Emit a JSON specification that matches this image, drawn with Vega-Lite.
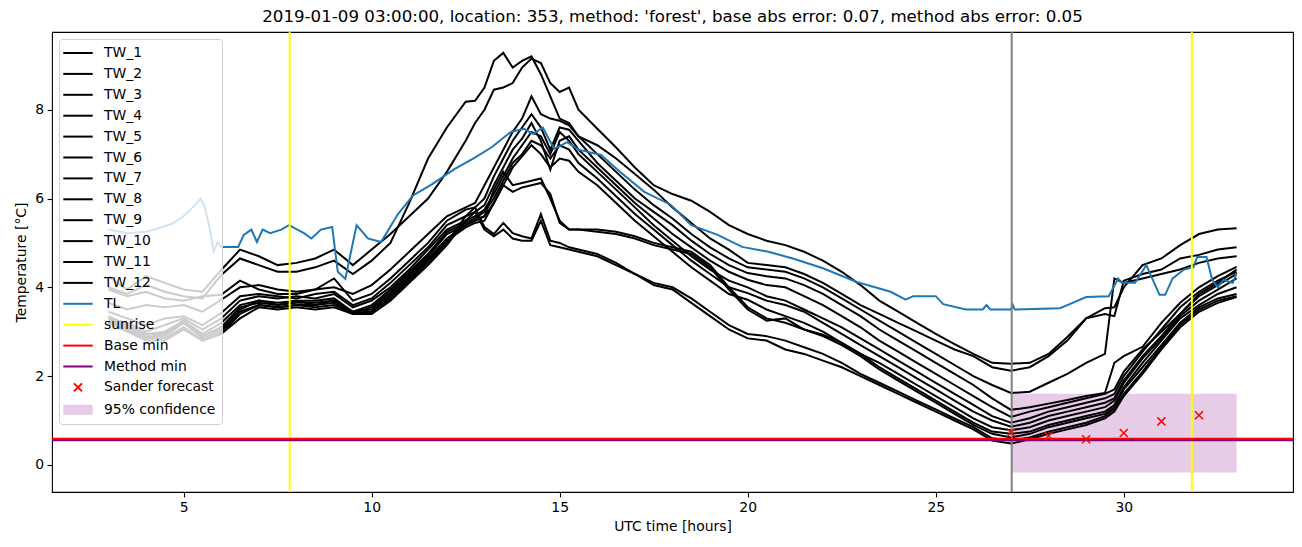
{
"$schema": "https://vega.github.io/schema/vega-lite/v6.json",
"width": 1241, "height": 460,
"autosize": {"type": "none"},
"padding": {"left": 52, "top": 32, "right": 9, "bottom": 55},
"title": {"text": "2019-01-09 03:00:00, location: 353, method: 'forest', base abs error: 0.07, method abs error: 0.05", "font": "DejaVu Sans", "fontSize": 16.67, "fontWeight": "normal", "color": "#000", "anchor": "middle", "offset": 5},
"config": {
 "view": {"stroke": "#000", "strokeWidth": 1.1},
 "axis": {"grid": false, "domain": false, "labelFont": "DejaVu Sans", "labelFontSize": 13.9, "labelColor": "#000", "tickColor": "#000", "tickSize": 4.9, "tickWidth": 1.1, "titleFont": "DejaVu Sans", "titleFontSize": 13.9, "titleFontWeight": "normal", "titleColor": "#000", "labelPadding": 3.5},
 "legend": {"symbolSize": 196, "symbolStrokeWidth": 2}
},
"datasets": {
 "tw": [
{"t":3,"TW_1":4.25,"TW_2":4.0,"TW_3":3.95,"TW_4":3.65,"TW_5":3.45,"TW_6":3.3,"TW_7":3.25,"TW_8":3.2,"TW_9":3.35,"TW_10":3.3,"TW_11":3.25,"TW_12":3.2},
{"t":3.5,"TW_1":3.95,"TW_2":3.85,"TW_3":3.8,"TW_4":3.5,"TW_5":3.3,"TW_6":3.2,"TW_7":3.1,"TW_8":3.05,"TW_9":3.15,"TW_10":3.1,"TW_11":3.05,"TW_12":3.0},
{"t":4,"TW_1":4.25,"TW_2":4.05,"TW_3":3.9,"TW_4":3.6,"TW_5":3.15,"TW_6":3.0,"TW_7":2.95,"TW_8":2.85,"TW_9":2.95,"TW_10":2.9,"TW_11":2.85,"TW_12":2.8},
{"t":4.5,"TW_1":4.1,"TW_2":3.9,"TW_3":3.75,"TW_4":3.55,"TW_5":3.3,"TW_6":3.15,"TW_7":3.0,"TW_8":2.95,"TW_9":2.95,"TW_10":2.9,"TW_11":2.85,"TW_12":2.8},
{"t":5,"TW_1":3.95,"TW_2":3.8,"TW_3":3.7,"TW_4":3.6,"TW_5":3.35,"TW_6":3.3,"TW_7":3.25,"TW_8":3.2,"TW_9":3.25,"TW_10":3.2,"TW_11":3.1,"TW_12":3.05},
{"t":5.5,"TW_1":3.9,"TW_2":3.75,"TW_3":3.8,"TW_4":3.45,"TW_5":3.15,"TW_6":3.05,"TW_7":2.95,"TW_8":2.9,"TW_9":2.9,"TW_10":2.85,"TW_11":2.8,"TW_12":2.8},
{"t":6,"TW_1":4.39,"TW_2":4.28,"TW_3":3.83,"TW_4":3.72,"TW_5":3.42,"TW_6":3.3,"TW_7":3.2,"TW_8":3.1,"TW_9":3.05,"TW_10":3.0,"TW_11":2.95,"TW_12":2.95},
{"t":6.5,"TW_1":4.85,"TW_2":4.65,"TW_3":4.15,"TW_4":4.0,"TW_5":3.8,"TW_6":3.7,"TW_7":3.6,"TW_8":3.55,"TW_9":3.5,"TW_10":3.45,"TW_11":3.4,"TW_12":3.3},
{"t":7,"TW_1":4.7,"TW_2":4.5,"TW_3":3.95,"TW_4":4.05,"TW_5":3.85,"TW_6":3.8,"TW_7":3.7,"TW_8":3.65,"TW_9":3.7,"TW_10":3.6,"TW_11":3.6,"TW_12":3.55},
{"t":7.5,"TW_1":4.5,"TW_2":4.35,"TW_3":3.85,"TW_4":3.95,"TW_5":3.8,"TW_6":3.75,"TW_7":3.65,"TW_8":3.6,"TW_9":3.6,"TW_10":3.55,"TW_11":3.55,"TW_12":3.5},
{"t":8,"TW_1":4.55,"TW_2":4.35,"TW_3":3.85,"TW_4":3.9,"TW_5":3.75,"TW_6":3.8,"TW_7":3.7,"TW_8":3.65,"TW_9":3.7,"TW_10":3.6,"TW_11":3.6,"TW_12":3.55},
{"t":8.5,"TW_1":4.65,"TW_2":4.45,"TW_3":3.95,"TW_4":3.95,"TW_5":3.85,"TW_6":3.75,"TW_7":3.7,"TW_8":3.65,"TW_9":3.6,"TW_10":3.6,"TW_11":3.55,"TW_12":3.5},
{"t":9,"TW_1":4.85,"TW_2":4.6,"TW_3":4.0,"TW_4":4.2,"TW_5":3.9,"TW_6":3.85,"TW_7":3.75,"TW_8":3.7,"TW_9":3.7,"TW_10":3.65,"TW_11":3.6,"TW_12":3.55},
{"t":9.5,"TW_1":4.5,"TW_2":4.3,"TW_3":3.85,"TW_4":3.7,"TW_5":3.6,"TW_6":3.55,"TW_7":3.45,"TW_8":3.42,"TW_9":3.45,"TW_10":3.4,"TW_11":3.42,"TW_12":3.4},
{"t":10,"TW_1":4.85,"TW_2":4.6,"TW_3":4.05,"TW_4":3.85,"TW_5":3.75,"TW_6":3.7,"TW_7":3.6,"TW_8":3.55,"TW_9":3.5,"TW_10":3.45,"TW_11":3.45,"TW_12":3.4},
{"t":10.5,"TW_1":5.2,"TW_2":5.0,"TW_3":4.4,"TW_4":4.2,"TW_5":4.1,"TW_6":4.0,"TW_7":3.95,"TW_8":3.9,"TW_9":3.85,"TW_10":3.8,"TW_11":3.75,"TW_12":3.7},
{"t":11,"TW_1":5.6,"TW_2":5.9,"TW_3":4.8,"TW_4":4.6,"TW_5":4.5,"TW_6":4.4,"TW_7":4.35,"TW_8":4.3,"TW_9":4.25,"TW_10":4.2,"TW_11":4.15,"TW_12":4.1},
{"t":11.5,"TW_1":6.0,"TW_2":6.9,"TW_3":5.2,"TW_4":5.0,"TW_5":4.9,"TW_6":4.85,"TW_7":4.75,"TW_8":4.7,"TW_9":4.65,"TW_10":4.6,"TW_11":4.55,"TW_12":4.5},
{"t":12,"TW_1":6.6,"TW_2":7.6,"TW_3":5.6,"TW_4":5.5,"TW_5":5.4,"TW_6":5.3,"TW_7":5.25,"TW_8":5.2,"TW_9":5.1,"TW_10":5.05,"TW_11":5.0,"TW_12":4.95},
{"t":12.5,"TW_1":7.3,"TW_2":8.18,"TW_3":5.8,"TW_4":5.75,"TW_5":5.6,"TW_6":5.5,"TW_7":5.45,"TW_8":5.4,"TW_9":5.4,"TW_10":5.35,"TW_11":5.6,"TW_12":5.5},
{"t":12.75,"TW_1":7.7,"TW_2":8.2,"TW_3":5.9,"TW_4":5.8,"TW_5":5.7,"TW_6":5.6,"TW_7":5.55,"TW_8":5.5,"TW_9":5.5,"TW_10":5.45,"TW_11":5.8,"TW_12":5.7},
{"t":13,"TW_1":8.0,"TW_2":8.5,"TW_3":6.3,"TW_4":6.0,"TW_5":5.85,"TW_6":5.75,"TW_7":5.7,"TW_8":5.6,"TW_9":5.6,"TW_10":5.5,"TW_11":5.36,"TW_12":5.3},
{"t":13.25,"TW_1":8.45,"TW_2":9.1,"TW_3":6.7,"TW_4":6.5,"TW_5":6.3,"TW_6":6.1,"TW_7":6.0,"TW_8":5.9,"TW_9":6.2,"TW_10":5.9,"TW_11":5.2,"TW_12":5.15},
{"t":13.5,"TW_1":8.5,"TW_2":9.28,"TW_3":7.1,"TW_4":6.9,"TW_5":6.7,"TW_6":6.5,"TW_7":6.4,"TW_8":6.3,"TW_9":6.6,"TW_10":6.3,"TW_11":5.45,"TW_12":5.3},
{"t":13.75,"TW_1":8.6,"TW_2":8.95,"TW_3":7.5,"TW_4":7.3,"TW_5":7.1,"TW_6":6.9,"TW_7":6.8,"TW_8":6.7,"TW_9":6.3,"TW_10":6.15,"TW_11":5.22,"TW_12":5.1},
{"t":14,"TW_1":8.95,"TW_2":9.1,"TW_3":7.8,"TW_4":7.6,"TW_5":7.35,"TW_6":7.2,"TW_7":7.0,"TW_8":6.95,"TW_9":6.35,"TW_10":6.25,"TW_11":5.15,"TW_12":5.05},
{"t":14.25,"TW_1":9.15,"TW_2":9.2,"TW_3":8.3,"TW_4":7.9,"TW_5":7.7,"TW_6":7.5,"TW_7":7.3,"TW_8":7.2,"TW_9":6.4,"TW_10":6.3,"TW_11":5.1,"TW_12":5.05},
{"t":14.5,"TW_1":9.05,"TW_2":8.8,"TW_3":7.9,"TW_4":7.6,"TW_5":7.3,"TW_6":7.4,"TW_7":7.2,"TW_8":7.0,"TW_9":6.45,"TW_10":6.35,"TW_11":5.65,"TW_12":5.5},
{"t":14.75,"TW_1":8.6,"TW_2":8.3,"TW_3":7.8,"TW_4":7.1,"TW_5":6.65,"TW_6":7.0,"TW_7":6.9,"TW_8":6.7,"TW_9":6.0,"TW_10":6.1,"TW_11":5.05,"TW_12":4.95},
{"t":15,"TW_1":8.4,"TW_2":7.8,"TW_3":7.75,"TW_4":7.6,"TW_5":7.3,"TW_6":7.5,"TW_7":7.2,"TW_8":6.9,"TW_9":5.5,"TW_10":5.45,"TW_11":5.0,"TW_12":4.9},
{"t":15.25,"TW_1":8.5,"TW_2":7.7,"TW_3":7.65,"TW_4":7.55,"TW_5":7.4,"TW_6":7.3,"TW_7":7.1,"TW_8":6.85,"TW_9":5.3,"TW_10":5.3,"TW_11":4.9,"TW_12":4.85},
{"t":15.5,"TW_1":8.0,"TW_2":7.4,"TW_3":7.4,"TW_4":7.3,"TW_5":7.1,"TW_6":7.0,"TW_7":6.8,"TW_8":6.6,"TW_9":5.3,"TW_10":5.3,"TW_11":4.85,"TW_12":4.8},
{"t":16,"TW_1":7.57,"TW_2":7.2,"TW_3":7.0,"TW_4":6.8,"TW_5":6.7,"TW_6":6.6,"TW_7":6.45,"TW_8":6.3,"TW_9":5.3,"TW_10":5.25,"TW_11":4.75,"TW_12":4.7},
{"t":16.5,"TW_1":7.15,"TW_2":6.9,"TW_3":6.6,"TW_4":6.4,"TW_5":6.3,"TW_6":6.2,"TW_7":6.05,"TW_8":5.9,"TW_9":5.25,"TW_10":5.2,"TW_11":4.55,"TW_12":4.5},
{"t":17,"TW_1":6.7,"TW_2":6.55,"TW_3":6.2,"TW_4":6.0,"TW_5":5.9,"TW_6":5.8,"TW_7":5.65,"TW_8":5.5,"TW_9":5.15,"TW_10":5.1,"TW_11":4.3,"TW_12":4.3},
{"t":17.5,"TW_1":6.3,"TW_2":6.2,"TW_3":5.85,"TW_4":5.7,"TW_5":5.55,"TW_6":5.4,"TW_7":5.3,"TW_8":5.15,"TW_9":5.0,"TW_10":4.95,"TW_11":4.1,"TW_12":4.05},
{"t":18,"TW_1":6.1,"TW_2":5.8,"TW_3":5.55,"TW_4":5.4,"TW_5":5.2,"TW_6":5.05,"TW_7":4.95,"TW_8":4.8,"TW_9":4.9,"TW_10":4.85,"TW_11":4.0,"TW_12":3.95},
{"t":18.5,"TW_1":5.95,"TW_2":5.45,"TW_3":5.2,"TW_4":5.05,"TW_5":4.9,"TW_6":4.7,"TW_7":4.6,"TW_8":4.45,"TW_9":4.8,"TW_10":4.75,"TW_11":3.75,"TW_12":3.65},
{"t":19,"TW_1":5.7,"TW_2":5.1,"TW_3":4.9,"TW_4":4.75,"TW_5":4.6,"TW_6":4.4,"TW_7":4.3,"TW_8":4.15,"TW_9":4.5,"TW_10":4.45,"TW_11":3.45,"TW_12":3.35},
{"t":19.5,"TW_1":5.4,"TW_2":4.85,"TW_3":4.65,"TW_4":4.5,"TW_5":4.35,"TW_6":4.15,"TW_7":4.0,"TW_8":3.85,"TW_9":4.0,"TW_10":3.95,"TW_11":3.15,"TW_12":3.05},
{"t":20,"TW_1":5.2,"TW_2":4.55,"TW_3":4.45,"TW_4":4.32,"TW_5":4.17,"TW_6":4.0,"TW_7":3.87,"TW_8":3.72,"TW_9":3.55,"TW_10":3.5,"TW_11":2.95,"TW_12":2.85},
{"t":20.5,"TW_1":5.05,"TW_2":4.5,"TW_3":4.4,"TW_4":4.25,"TW_5":4.05,"TW_6":3.8,"TW_7":3.7,"TW_8":3.5,"TW_9":3.3,"TW_10":3.25,"TW_11":2.9,"TW_12":2.8},
{"t":21,"TW_1":4.95,"TW_2":4.45,"TW_3":4.35,"TW_4":4.2,"TW_5":4.0,"TW_6":3.7,"TW_7":3.6,"TW_8":3.35,"TW_9":3.2,"TW_10":3.3,"TW_11":2.8,"TW_12":2.6},
{"t":21.5,"TW_1":4.8,"TW_2":4.3,"TW_3":4.2,"TW_4":4.05,"TW_5":3.8,"TW_6":3.5,"TW_7":3.45,"TW_8":3.2,"TW_9":3.05,"TW_10":3.05,"TW_11":2.65,"TW_12":2.5},
{"t":22,"TW_1":4.6,"TW_2":4.1,"TW_3":4.0,"TW_4":3.85,"TW_5":3.6,"TW_6":3.3,"TW_7":3.2,"TW_8":3.0,"TW_9":2.93,"TW_10":2.9,"TW_11":2.5,"TW_12":2.35},
{"t":22.5,"TW_1":4.35,"TW_2":3.85,"TW_3":3.75,"TW_4":3.6,"TW_5":3.35,"TW_6":3.1,"TW_7":2.95,"TW_8":2.75,"TW_9":2.75,"TW_10":2.7,"TW_11":2.3,"TW_12":2.2},
{"t":23,"TW_1":4.05,"TW_2":3.6,"TW_3":3.5,"TW_4":3.35,"TW_5":3.1,"TW_6":2.85,"TW_7":2.7,"TW_8":2.5,"TW_9":2.5,"TW_10":2.45,"TW_11":2.05,"TW_12":2.0},
{"t":23.5,"TW_1":3.7,"TW_2":3.4,"TW_3":3.25,"TW_4":3.05,"TW_5":2.8,"TW_6":2.6,"TW_7":2.45,"TW_8":2.3,"TW_9":2.2,"TW_10":2.15,"TW_11":1.85,"TW_12":1.8},
{"t":24,"TW_1":3.45,"TW_2":3.2,"TW_3":3.0,"TW_4":2.8,"TW_5":2.55,"TW_6":2.35,"TW_7":2.2,"TW_8":2.05,"TW_9":1.95,"TW_10":1.9,"TW_11":1.65,"TW_12":1.6},
{"t":24.5,"TW_1":3.2,"TW_2":3.0,"TW_3":2.75,"TW_4":2.55,"TW_5":2.3,"TW_6":2.1,"TW_7":1.95,"TW_8":1.8,"TW_9":1.7,"TW_10":1.65,"TW_11":1.45,"TW_12":1.4},
{"t":25,"TW_1":2.95,"TW_2":2.8,"TW_3":2.5,"TW_4":2.3,"TW_5":2.05,"TW_6":1.85,"TW_7":1.7,"TW_8":1.55,"TW_9":1.45,"TW_10":1.4,"TW_11":1.25,"TW_12":1.2},
{"t":25.5,"TW_1":2.72,"TW_2":2.6,"TW_3":2.25,"TW_4":2.05,"TW_5":1.8,"TW_6":1.6,"TW_7":1.45,"TW_8":1.3,"TW_9":1.2,"TW_10":1.15,"TW_11":1.05,"TW_12":1.0},
{"t":26,"TW_1":2.5,"TW_2":2.45,"TW_3":2.0,"TW_4":1.8,"TW_5":1.55,"TW_6":1.35,"TW_7":1.2,"TW_8":1.05,"TW_9":0.95,"TW_10":0.9,"TW_11":0.85,"TW_12":0.8},
{"t":26.5,"TW_1":2.3,"TW_2":2.2,"TW_3":1.8,"TW_4":1.5,"TW_5":1.3,"TW_6":1.1,"TW_7":1.0,"TW_8":0.85,"TW_9":0.75,"TW_10":0.7,"TW_11":0.6,"TW_12":0.55},
{"t":27,"TW_1":2.28,"TW_2":2.12,"TW_3":1.62,"TW_4":1.24,"TW_5":1.08,"TW_6":0.95,"TW_7":0.86,"TW_8":0.78,"TW_9":0.7,"TW_10":0.62,"TW_11":0.55,"TW_12":0.48},
{"t":27.5,"TW_1":2.3,"TW_2":2.2,"TW_3":1.65,"TW_4":1.3,"TW_5":1.2,"TW_6":1.05,"TW_7":0.95,"TW_8":0.85,"TW_9":0.75,"TW_10":0.7,"TW_11":0.62,"TW_12":0.58},
{"t":28,"TW_1":2.5,"TW_2":2.45,"TW_3":1.85,"TW_4":1.38,"TW_5":1.3,"TW_6":1.2,"TW_7":1.1,"TW_8":1.0,"TW_9":0.9,"TW_10":0.85,"TW_11":0.75,"TW_12":0.7},
{"t":28.5,"TW_1":2.88,"TW_2":2.8,"TW_3":2.05,"TW_4":1.46,"TW_5":1.4,"TW_6":1.3,"TW_7":1.2,"TW_8":1.1,"TW_9":1.0,"TW_10":0.95,"TW_11":0.85,"TW_12":0.8},
{"t":29,"TW_1":3.3,"TW_2":3.3,"TW_3":2.3,"TW_4":1.55,"TW_5":1.5,"TW_6":1.4,"TW_7":1.3,"TW_8":1.2,"TW_9":1.1,"TW_10":1.05,"TW_11":0.95,"TW_12":0.9},
{"t":29.5,"TW_1":3.53,"TW_2":3.4,"TW_3":2.5,"TW_4":1.62,"TW_5":1.6,"TW_6":1.5,"TW_7":1.4,"TW_8":1.3,"TW_9":1.2,"TW_10":1.15,"TW_11":1.1,"TW_12":1.05},
{"t":29.75,"TW_1":3.55,"TW_2":3.35,"TW_3":4.2,"TW_4":2.3,"TW_5":1.7,"TW_6":1.6,"TW_7":1.5,"TW_8":1.45,"TW_9":1.35,"TW_10":1.3,"TW_11":1.25,"TW_12":1.2},
{"t":30,"TW_1":4.0,"TW_2":4.15,"TW_3":4.1,"TW_4":2.45,"TW_5":2.1,"TW_6":2.0,"TW_7":1.9,"TW_8":1.85,"TW_9":1.75,"TW_10":1.7,"TW_11":1.6,"TW_12":1.55},
{"t":30.5,"TW_1":4.5,"TW_2":4.3,"TW_3":4.2,"TW_4":2.66,"TW_5":2.6,"TW_6":2.55,"TW_7":2.45,"TW_8":2.4,"TW_9":2.3,"TW_10":2.2,"TW_11":2.1,"TW_12":2.05},
{"t":31,"TW_1":4.65,"TW_2":4.4,"TW_3":4.3,"TW_4":3.2,"TW_5":3.0,"TW_6":3.05,"TW_7":2.9,"TW_8":2.85,"TW_9":2.8,"TW_10":2.7,"TW_11":2.65,"TW_12":2.6},
{"t":31.5,"TW_1":4.95,"TW_2":4.65,"TW_3":4.4,"TW_4":3.65,"TW_5":3.4,"TW_6":3.55,"TW_7":3.4,"TW_8":3.35,"TW_9":3.3,"TW_10":3.2,"TW_11":3.15,"TW_12":3.1},
{"t":32,"TW_1":5.2,"TW_2":4.73,"TW_3":4.55,"TW_4":4.0,"TW_5":3.85,"TW_6":3.9,"TW_7":3.8,"TW_8":3.7,"TW_9":3.6,"TW_10":3.55,"TW_11":3.5,"TW_12":3.45},
{"t":32.5,"TW_1":5.3,"TW_2":4.85,"TW_3":4.65,"TW_4":4.25,"TW_5":4.1,"TW_6":4.15,"TW_7":4.05,"TW_8":3.95,"TW_9":3.85,"TW_10":3.75,"TW_11":3.7,"TW_12":3.65},
{"t":33,"TW_1":5.33,"TW_2":4.9,"TW_3":4.7,"TW_4":4.46,"TW_5":4.4,"TW_6":4.35,"TW_7":4.3,"TW_8":4.2,"TW_9":4.0,"TW_10":3.85,"TW_11":3.8,"TW_12":3.78}
 ],
 "tl": [
{"t":3,"v":5.3},{"t":3.5,"v":5.22},{"t":4.0,"v":5.25},{"t":4.4,"v":5.35},{"t":4.7,"v":5.43},{"t":5.0,"v":5.6},{"t":5.3,"v":5.85},{"t":5.45,"v":6.0},{"t":5.55,"v":5.85},{"t":5.7,"v":5.3},{"t":5.8,"v":4.8},{"t":5.9,"v":5.0},{"t":6.0,"v":4.91},{"t":6.45,"v":4.91},{"t":6.6,"v":5.18},{"t":6.8,"v":5.3},{"t":6.95,"v":5.02},{"t":7.1,"v":5.3},{"t":7.3,"v":5.22},{"t":7.6,"v":5.3},{"t":7.8,"v":5.4},{"t":8.2,"v":5.22},{"t":8.4,"v":5.1},{"t":8.65,"v":5.3},{"t":8.95,"v":5.36},{"t":9.1,"v":4.35},{"t":9.3,"v":4.19},{"t":9.6,"v":5.4},{"t":9.9,"v":5.1},{"t":10.25,"v":5.02},{"t":10.7,"v":5.65},{"t":11.1,"v":6.07},{"t":11.6,"v":6.32},{"t":12.2,"v":6.66},{"t":12.7,"v":6.9},{"t":13.2,"v":7.16},{"t":13.7,"v":7.5},{"t":14.05,"v":7.57},{"t":14.3,"v":7.45},{"t":14.55,"v":7.6},{"t":14.85,"v":7.12},{"t":15.2,"v":7.27},{"t":15.5,"v":7.1},{"t":16.1,"v":6.98},{"t":16.6,"v":6.6},{"t":17.25,"v":6.15},{"t":17.95,"v":5.86},{"t":18.5,"v":5.4},{"t":19.2,"v":5.18},{"t":19.85,"v":4.91},{"t":20.55,"v":4.8},{"t":21.2,"v":4.65},{"t":22.0,"v":4.43},{"t":22.9,"v":4.12},{"t":23.8,"v":3.9},{"t":24.2,"v":3.72},{"t":24.4,"v":3.8},{"t":25.0,"v":3.8},{"t":25.2,"v":3.62},{"t":25.8,"v":3.5},{"t":26.25,"v":3.5},{"t":26.35,"v":3.6},{"t":26.45,"v":3.5},{"t":27.0,"v":3.5},{"t":27.05,"v":3.6},{"t":27.1,"v":3.5},{"t":28.3,"v":3.53},{"t":28.5,"v":3.6},{"t":29.0,"v":3.78},{"t":29.6,"v":3.8},{"t":29.85,"v":4.2},{"t":29.95,"v":4.1},{"t":30.3,"v":4.1},{"t":30.6,"v":4.5},{"t":30.95,"v":3.83},{"t":31.1,"v":3.83},{"t":31.3,"v":4.2},{"t":31.6,"v":4.4},{"t":31.85,"v":4.45},{"t":31.95,"v":4.68},{"t":32.2,"v":4.68},{"t":32.35,"v":4.17},{"t":32.5,"v":4.0},{"t":32.65,"v":4.17},{"t":32.9,"v":4.1},{"t":33,"v":4.32}
 ],
 "leg": [
{"series":"TW_1"},{"series":"TW_2"},{"series":"TW_3"},{"series":"TW_4"},{"series":"TW_5"},{"series":"TW_6"},{"series":"TW_7"},{"series":"TW_8"},{"series":"TW_9"},{"series":"TW_10"},{"series":"TW_11"},{"series":"TW_12"},{"series":"TL"},{"series":"sunrise"},{"series":"Base min"},{"series":"Method min"},{"series":"Sander forecast"},{"series":"95% confidence"}
 ]
},
"layer": [
 {
  "data": {"values": [{"x": 27, "x2": 33, "y": -0.17, "y2": 1.6}]},
  "mark": {"type": "rect", "fill": "#800080", "fillOpacity": 0.2},
  "encoding": {
   "x": {"field": "x", "type": "quantitative", "scale": {"domain": [1.5, 34.5], "nice": false, "zero": false}, "axis": {"title": "UTC time [hours]", "values": [5, 10, 15, 20, 25, 30], "titlePadding": 5}},
   "x2": {"field": "x2"},
   "y": {"field": "y", "type": "quantitative", "scale": {"domain": [-0.61, 9.75], "nice": false, "zero": false}, "axis": {"title": "Temperature [°C]", "values": [0, 2, 4, 6, 8], "titlePadding": 6}},
   "y2": {"field": "y2"}
  }
 },
 {
  "data": {"name": "tw"},
  "transform": [{"fold": ["TW_1","TW_2","TW_3","TW_4","TW_5","TW_6","TW_7","TW_8","TW_9","TW_10","TW_11","TW_12"], "as": ["series", "value"]}],
  "mark": {"type": "line", "strokeWidth": 2, "color": "#000"},
  "encoding": {
   "x": {"field": "t", "type": "quantitative"},
   "y": {"field": "value", "type": "quantitative"},
   "detail": {"field": "series", "type": "nominal"}
  }
 },
 {
  "data": {"name": "tl"},
  "mark": {"type": "line", "strokeWidth": 2, "color": "#1f77b4"},
  "encoding": {"x": {"field": "t", "type": "quantitative"}, "y": {"field": "v", "type": "quantitative"}}
 },
 {
  "data": {"values": [{"x": 7.82}, {"x": 31.81}]},
  "mark": {"type": "rule", "color": "#ffff00", "strokeWidth": 2},
  "encoding": {"x": {"field": "x", "type": "quantitative"}}
 },
 {
  "data": {"values": [{"x": 27.02}]},
  "mark": {"type": "rule", "color": "#808080", "strokeWidth": 2},
  "encoding": {"x": {"field": "x", "type": "quantitative"}}
 },
 {
  "data": {"values": [{"y": 0.59}]},
  "mark": {"type": "rule", "color": "#ff0000", "strokeWidth": 2},
  "encoding": {"y": {"field": "y", "type": "quantitative"}}
 },
 {
  "data": {"values": [{"y": 0.555}]},
  "mark": {"type": "rule", "color": "#800080", "strokeWidth": 2},
  "encoding": {"y": {"field": "y", "type": "quantitative"}}
 },
 {
  "data": {"values": [{"t": 27, "v": 0.73}, {"t": 28, "v": 0.65}, {"t": 29, "v": 0.58}, {"t": 30, "v": 0.72}, {"t": 31, "v": 0.98}, {"t": 32, "v": 1.12}]},
  "mark": {"type": "point", "shape": "M-1,-1L1,1M-1,1L1,-1", "size": 64, "filled": false, "stroke": "#ff0000", "strokeWidth": 1.5, "opacity": 1},
  "encoding": {"x": {"field": "t", "type": "quantitative"}, "y": {"field": "v", "type": "quantitative"}}
 },
 {
  "data": {"name": "leg"},
  "mark": {"type": "point", "filled": false, "clip": true, "strokeWidth": 2, "opacity": 1},
  "encoding": {
   "x": {"datum": -100, "type": "quantitative"},
   "y": {"datum": -100, "type": "quantitative"},
   "color": {"field": "series", "type": "nominal",
    "scale": {"domain": ["TW_1","TW_2","TW_3","TW_4","TW_5","TW_6","TW_7","TW_8","TW_9","TW_10","TW_11","TW_12","TL","sunrise","Base min","Method min","Sander forecast","95% confidence"],
              "range": ["#000","#000","#000","#000","#000","#000","#000","#000","#000","#000","#000","#000","#1f77b4","#ffff00","#ff0000","#800080","#ff0000","#e6cce6"]},
    "legend": {
     "title": null, "orient": "top-left", "offset": 7, "padding": 6,
     "fillColor": "rgba(255,255,255,0.8)", "strokeColor": "#d0d0d0", "cornerRadius": 3,
     "labelFont": "DejaVu Sans", "labelFontSize": 13.9, "labelColor": "#000",
     "symbolSize": 196, "symbolStrokeWidth": 2, "symbolOpacity": 1,
     "rowPadding": 5.9, "labelOffset": 18, "symbolOffset": 5
    }
   },
   "shape": {"field": "series", "type": "nominal",
    "scale": {"domain": ["TW_1","TW_2","TW_3","TW_4","TW_5","TW_6","TW_7","TW_8","TW_9","TW_10","TW_11","TW_12","TL","sunrise","Base min","Method min","Sander forecast","95% confidence"],
              "range": ["M-2.1,0H2.1","M-2.1,0H2.1","M-2.1,0H2.1","M-2.1,0H2.1","M-2.1,0H2.1","M-2.1,0H2.1","M-2.1,0H2.1","M-2.1,0H2.1","M-2.1,0H2.1","M-2.1,0H2.1","M-2.1,0H2.1","M-2.1,0H2.1","M-2.1,0H2.1","M-2.1,0H2.1","M-2.1,0H2.1","M-2.1,0H2.1","M-0.57,-0.57L0.57,0.57M-0.57,0.57L0.57,-0.57","M-2.1,-0.64H2.1M-2.1,-0.36H2.1M-2.1,-0.07H2.1M-2.1,0.21H2.1M-2.1,0.5H2.1"]},
    "legend": {
     "title": null, "orient": "top-left", "offset": 7, "padding": 6,
     "fillColor": "rgba(255,255,255,0.8)", "strokeColor": "#d0d0d0", "cornerRadius": 3,
     "labelFont": "DejaVu Sans", "labelFontSize": 13.9, "labelColor": "#000",
     "symbolSize": 196, "symbolStrokeWidth": 2, "symbolOpacity": 1,
     "rowPadding": 5.9, "labelOffset": 18, "symbolOffset": 5
    }
   }
  }
 }
]
}
